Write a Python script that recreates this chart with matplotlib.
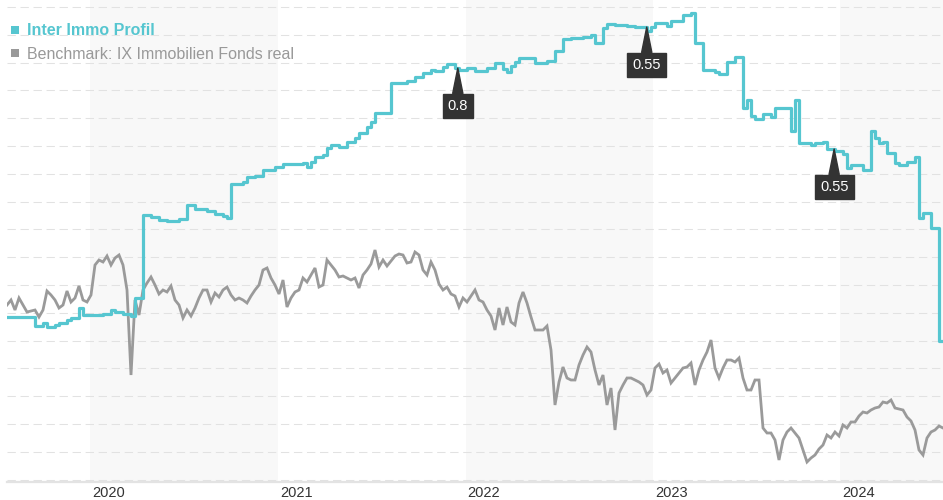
import numpy as np
import pandas as pd
import matplotlib
matplotlib.use("Agg")
import matplotlib.pyplot as plt
from matplotlib import transforms
from matplotlib.patches import Rectangle

# ---------------- data (performance in %, sampled on a regular date grid) ----------------
START, END = "2019-07-23", "2024-07-19"

fund = [
    -0.2, -0.2, -0.2, -0.2, -0.2, -0.2, -0.2, -1.1, -1.1, -0.8,
    -1.2, -1.2, -1.0, -0.8, -0.8, -0.5, -0.3, -0.3, 0.7, 0.0,
    0.0, 0.0, 0.0, 0.0, 0.1, 0.1, 0.5, 0.3, 0.3, 0.1,
    0.1, -0.1, 1.7, 1.7, 10.0, 10.0, 9.8, 9.8, 9.5, 9.5,
    9.4, 9.4, 9.4, 9.6, 9.6, 11.0, 11.0, 10.6, 10.6, 10.6,
    10.4, 10.4, 10.1, 10.1, 9.9, 9.7, 13.1, 13.1, 13.1, 13.3,
    13.8, 13.8, 13.9, 13.9, 14.5, 14.5, 14.5, 14.8, 14.8, 15.1,
    15.1, 15.1, 15.1, 15.1, 15.2, 14.8, 15.3, 15.8, 15.8, 16.0,
    16.7, 17.0, 17.0, 16.8, 16.8, 17.3, 17.3, 17.7, 18.2, 18.2,
    18.8, 19.3, 20.2, 20.2, 20.2, 20.2, 23.2, 23.2, 23.2, 23.2,
    23.4, 23.4, 23.8, 23.8, 24.2, 24.2, 24.5, 24.4, 24.4, 24.8,
    25.1, 25.1, 24.7, 24.5, 24.5, 24.7, 24.7, 24.4, 24.4, 24.4,
    24.7, 24.7, 25.2, 25.2, 24.6, 24.3, 24.9, 25.3, 25.7, 25.7,
    25.7, 25.7, 25.2, 25.2, 25.2, 25.4, 25.4, 26.4, 26.4, 27.6,
    27.6, 27.7, 27.7, 27.7, 27.8, 27.8, 28.0, 27.2, 27.2, 28.7,
    29.1, 29.1, 29.0, 29.0, 29.0, 28.9, 28.9, 28.8, 28.8, 28.8,
    28.4, 28.8, 29.2, 29.2, 29.2, 28.9, 29.4, 29.4, 29.4, 30.0,
    30.0, 30.2, 27.2, 27.2, 24.5, 24.5, 24.5, 24.3, 24.1, 24.1,
    25.3, 25.3, 25.8, 25.8, 20.7, 21.5, 19.9, 19.6, 19.6, 20.1,
    20.1, 19.8, 20.7, 20.7, 20.7, 20.7, 18.4, 21.5, 17.2, 17.2,
    17.2, 17.0, 17.2, 17.2, 17.3, 16.6, 16.6, 16.4, 16.4, 16.1,
    14.7, 15.0, 15.0, 15.0, 14.5, 14.5, 18.4, 17.7, 17.2, 17.3,
    16.2, 16.2, 15.2, 15.0, 15.0, 15.3, 15.3, 15.8, 9.7, 10.2,
    10.2, 8.7, 8.7, -2.6, -2.6,
]

bench = [
    1.0, 1.5, 0.5, 1.7, 1.0, 0.3, 0.4, 0.5, -0.2, 0.5,
    2.4, 2.0, 1.5, 0.7, 1.0, 2.4, 1.3, 1.7, 2.9, 1.5,
    1.3, 2.0, 5.0, 5.5, 5.3, 5.9, 5.0, 5.7, 6.0, 5.0,
    2.5, -6.0, 1.5, 0.0, 2.5, 3.2, 3.8, 3.0, 2.1, 2.5,
    2.3, 2.9, 1.5, 1.0, -0.3, 0.5, -0.1, 0.7, 1.7, 2.5,
    2.5, 1.3, 2.2, 1.8, 2.5, 2.8, 2.0, 1.5, 1.7, 1.5,
    1.2, 1.9, 2.5, 3.0, 4.5, 4.7, 3.7, 3.0, 2.1, 3.5,
    0.8, 1.7, 2.3, 2.5, 3.7, 3.3, 4.0, 4.7, 2.8, 3.0,
    5.5, 5.0, 4.5, 3.8, 3.9, 3.7, 3.5, 3.7, 2.7, 4.0,
    4.5, 5.1, 6.5, 4.8, 5.5, 4.9, 5.4, 5.9, 6.1, 6.0,
    5.2, 5.3, 6.3, 6.0, 4.5, 4.0, 5.3, 4.5, 3.1, 2.5,
    2.8, 2.1, 1.9, 0.8, 1.7, 1.3, 1.9, 2.5, 1.5, 1.3,
    0.5, -0.1, -1.5, 0.7, -1.0, 0.8, -0.7, -1.0, 1.2, 2.3,
    1.2, -0.2, -1.5, -1.5, -1.5, -1.1, -3.5, -9.0, -6.7, -5.2,
    -6.3, -6.5, -6.5, -5.0, -4.0, -3.2, -3.7, -5.5, -7.0, -6.0,
    -9.0, -7.3, -11.5, -7.8, -7.0, -6.3, -6.3, -6.5, -6.7, -7.0,
    -8.0, -7.5, -5.3, -4.9, -5.8, -5.5, -6.8, -6.3, -5.8, -5.3,
    -5.2, -4.8, -7.0, -5.5, -4.5, -3.7, -2.5, -5.3, -6.3, -5.3,
    -4.5, -4.5, -4.7, -4.3, -6.3, -7.5, -7.5, -6.5, -6.5, -11.3,
    -11.8, -11.8, -12.5, -14.5, -12.5, -11.7, -11.3, -11.8, -12.3, -13.5,
    -14.7, -14.3, -14.0, -13.4, -13.0, -12.0, -12.3, -11.7, -12.1, -11.0,
    -11.3, -10.7, -10.7, -10.1, -9.7, -9.8, -9.5, -9.3, -9.2, -8.7,
    -8.8, -8.5, -9.3, -9.4, -9.5, -10.2, -10.6, -11.5, -13.5, -14.0,
    -12.3, -11.7, -11.5, -11.1, -11.3,
]

YEARS = [2020, 2021, 2022, 2023, 2024]
SHADED_YEARS = [2020, 2022, 2024]
DIV_DATES = ["2021-12-17", "2022-12-20", "2023-12-20"]
DIV_LABELS = ["0.8", "0.55", "0.55"]
FUND_NAME = "Inter Immo Profil"
BENCH_NAME = "Benchmark: IX Immobilien Fonds real"

# ---------------- styling ----------------
TEAL = "#56c6d0"
GRAY = "#9a9a9a"
FONT = ["Liberation Sans", "DejaVu Sans"]
plt.rcParams["font.family"] = FONT

W, H, DPI = 943, 500, 100
fig = plt.figure(figsize=(W / DPI, H / DPI), dpi=DPI)
ax = fig.add_axes([7 / W, 18 / H, 936 / W, 482 / H])

dates = pd.date_range(START, END, periods=len(fund))
t0, t1 = dates[0], dates[-1]

# alternating year bands
for y in SHADED_YEARS:
    a = pd.Timestamp(f"{y}-01-01")
    b = min(pd.Timestamp(f"{y + 1}-01-01"), t1)
    ax.axvspan(a, b, color="#f8f8f8", zorder=0, lw=0)

# grid lines (dashed, horizontal)
grid_vals = 30.8 - 2.78 * np.arange(18)
ax.set_yticks(grid_vals)
ax.yaxis.grid(True, color="#e2e2e2", lw=0.75, linestyle=(0, (8, 4.5)))
ax.set_axisbelow(True)
ax.tick_params(axis="y", length=0, labelleft=False)

ax.plot(dates, bench, color=GRAY, lw=2.0, zorder=2, solid_joinstyle="miter")
ax.plot(dates, fund, color=TEAL, lw=2.3, drawstyle="steps-post", zorder=3)

ax.set_xlim(t0, t1)
ax.set_ylim(-16.7, 31.5)

for s in ["left", "right", "top"]:
    ax.spines[s].set_visible(False)
ax.spines["bottom"].set_color("#e3e3e3")
ax.spines["bottom"].set_linewidth(1.6)

ax.set_xticks([pd.Timestamp(f"{y}-01-01") for y in YEARS])
ax.set_xticklabels([str(y) for y in YEARS])
ax.tick_params(axis="x", length=0, pad=3, labelsize=10.5, labelcolor="#333333")
shift = transforms.ScaledTranslation(2 / DPI, 0, fig.dpi_scale_trans)
for lbl in ax.get_xticklabels():
    lbl.set_horizontalalignment("left")
    lbl.set_transform(lbl.get_transform() + shift)

# dividend flags
fund_arr = np.asarray(fund)
for d, lab in zip(DIV_DATES, DIV_LABELS):
    t = pd.Timestamp(d)
    i = max(dates.searchsorted(t, side="right") - 1, 0)
    ax.annotate(
        lab, xy=(t, fund_arr[i]), xytext=(0, -38), textcoords="offset pixels",
        ha="center", va="center", color="white", fontsize=10.5,
        bbox=dict(boxstyle="square,pad=0.35", fc="#333333", ec="#333333"),
        arrowprops=dict(arrowstyle="wedge,tail_width=0.7,shrink_factor=0.5",
                        fc="#333333", ec="#333333", shrinkA=0, shrinkB=0),
        zorder=6,
    )

# legend (top-left)
def px(x, y):
    return x / W, 1 - y / H

fig.add_artist(Rectangle(px(11, 34), 8 / W, 8 / H, transform=fig.transFigure,
                         color=TEAL, lw=0))
fig.add_artist(Rectangle(px(11, 57), 8 / W, 8 / H, transform=fig.transFigure,
                         color="#999999", lw=0))
fig.text(*px(27, 35), FUND_NAME, color=TEAL, fontsize=11.5, fontweight="bold",
         ha="left", va="baseline")
fig.text(*px(27, 59), BENCH_NAME, color="#999999", fontsize=11.5,
         ha="left", va="baseline")

fig.savefig("out.png", dpi=DPI)
